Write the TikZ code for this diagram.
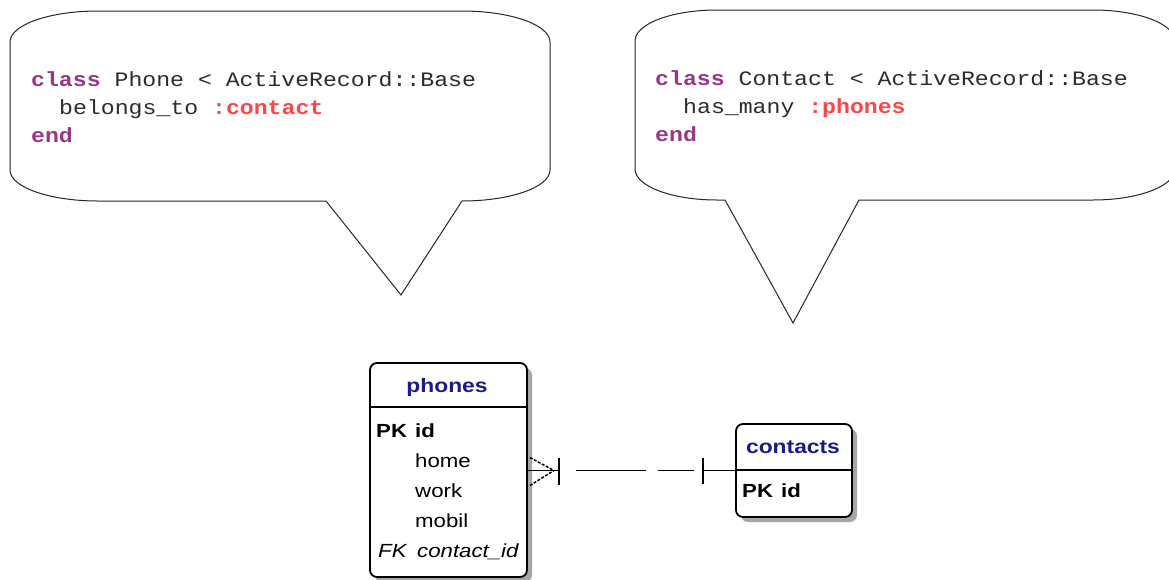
\documentclass[tikz,border=0pt]{standalone}
\usepackage{fontspec}
\usetikzlibrary{shadows,calc}
\newfontfamily\codefont[FakeStretch=1.13]{Liberation Mono}
\newfontfamily\erfont[FakeStretch=1.17]{Liberation Sans}
\definecolor{kw}{HTML}{9B3585}
\definecolor{sym}{HTML}{FF4646}
\definecolor{codetxt}{HTML}{2B2B2B}
\definecolor{hdr}{HTML}{1B1B87}
\definecolor{shade}{HTML}{A6A6A6}
\begin{document}
\begin{tikzpicture}[x=1pt,y=-1pt,
  bubble/.style={draw=black!85, line width=1pt, fill=white, line join=miter},
  code/.style={anchor=base west, inner sep=0pt, font=\codefont\fontsize{20.5}{28}\selectfont, text=codetxt},
  erbox/.style={draw, line width=1.8pt, fill=white, rounded corners=7pt, inner sep=0pt,
    drop shadow={shadow xshift=5pt, shadow yshift=-5pt, fill=shade, opacity=1}},
  hdrtext/.style={anchor=base, inner sep=0pt, text=hdr, font=\erfont\bfseries\fontsize{19.5}{20}\selectfont},
  row/.style={anchor=base west, inner sep=0pt, font=\erfont\fontsize{19}{20}\selectfont},
  rowb/.style={row, font=\erfont\bfseries\fontsize{19}{20}\selectfont},
  rowi/.style={row, font=\erfont\itshape\fontsize{19}{20}\selectfont},
  rel/.style={line width=1.7pt},
  prong/.style={line width=1.5pt, dash pattern=on 3pt off 1.5pt},
  sep/.style={line width=1.7pt}
]
\clip (0,0) rectangle (1169,579);
\fill[white] (0,0) rectangle (1169,579);

% left speech bubble
\draw[bubble] (10,42) .. controls (10,24.9) and (49.4,11) .. (98,11) -- (462,11)
  .. controls (510.6,11) and (550,24.9) .. (550,42) -- (550,170)
  .. controls (550,187.1) and (510.6,201) .. (462,201) -- (401,295) -- (326,201) -- (98,201)
  .. controls (49.4,201) and (10,187.1) .. (10,170) -- cycle;

% right speech bubble
\draw[bubble] (635,41) .. controls (635,23.9) and (671.7,10) .. (717,10) -- (1093,10)
  .. controls (1138.3,10) and (1175,23.9) .. (1175,41) -- (1175,169)
  .. controls (1175,186.1) and (1138.3,200) .. (1093,200) -- (859,200) -- (793,323) -- (725,200) -- (717,200)
  .. controls (671.7,200) and (635,186.1) .. (635,169) -- cycle;

% code texts
\node[code] (c1) at (31,86) {\textcolor{kw}{\bfseries class} Phone < ActiveRecord::Base};
\node[code] (c2) at (59,114) {belongs\_to \textcolor{sym}{\bfseries :contact}};
\node[code] (c3) at (31,142) {\textcolor{kw}{\bfseries end}};

\node[code] (d1) at (655,85) {\textcolor{kw}{\bfseries class} Contact < ActiveRecord::Base};
\node[code] (d2) at (683,113) {has\_many \textcolor{sym}{\bfseries :phones}};
\node[code] (d3) at (655,141) {\textcolor{kw}{\bfseries end}};

% ER tables
\node[erbox, minimum width=157pt, minimum height=214pt] (phones) at (448.5,470) {};
\draw[sep] (370,407) -- (527,407);
\node[hdrtext] (ph) at (447,392) {phones};
\node[rowb] (p1) at (376,437) {PK};
\node[rowb] (p1b) at (415,437) {id};
\node[row] (p2) at (415,467) {home};
\node[row] (p3) at (415,497) {work};
\node[row] (p4) at (415,527) {mobil};
\node[rowi] (p5) at (378,557) {FK};
\node[rowi] (p5b) at (417,557) {contact\_id};

\node[erbox, minimum width=116pt, minimum height=93pt] (contacts) at (794,470.5) {};
\draw[sep] (736,470) -- (852,470);
\node[hdrtext] (ch) at (793,453) {contacts};
\node[rowb] (k1) at (742,497) {PK};
\node[rowb] (k1b) at (781,497) {id};

% relationship
\coordinate (L) at (phones.east |- contacts.west);
\coordinate (R) at (contacts.west);
\draw[rel] (L) -- ($(L)+(31,0)$);
\draw[prong] ($(L)+(2,-13)$) -- ($(L)+(26,0)$);
\draw[prong] ($(L)+(2,15)$) -- ($(L)+(26,0)$);
\draw[rel] ($(L)+(31,-13)$) -- ($(L)+(31,14)$);
\draw[rel, dash pattern=on 0pt off 17pt on 70pt off 12pt on 36pt off 40pt] ($(L)+(31,0)$) -- ($(R)+(-32,0)$);
\draw[rel] ($(R)+(-32,-13)$) -- ($(R)+(-32,13)$);
\draw[rel] ($(R)+(-32,0)$) -- (R);
\end{tikzpicture}
\end{document}
